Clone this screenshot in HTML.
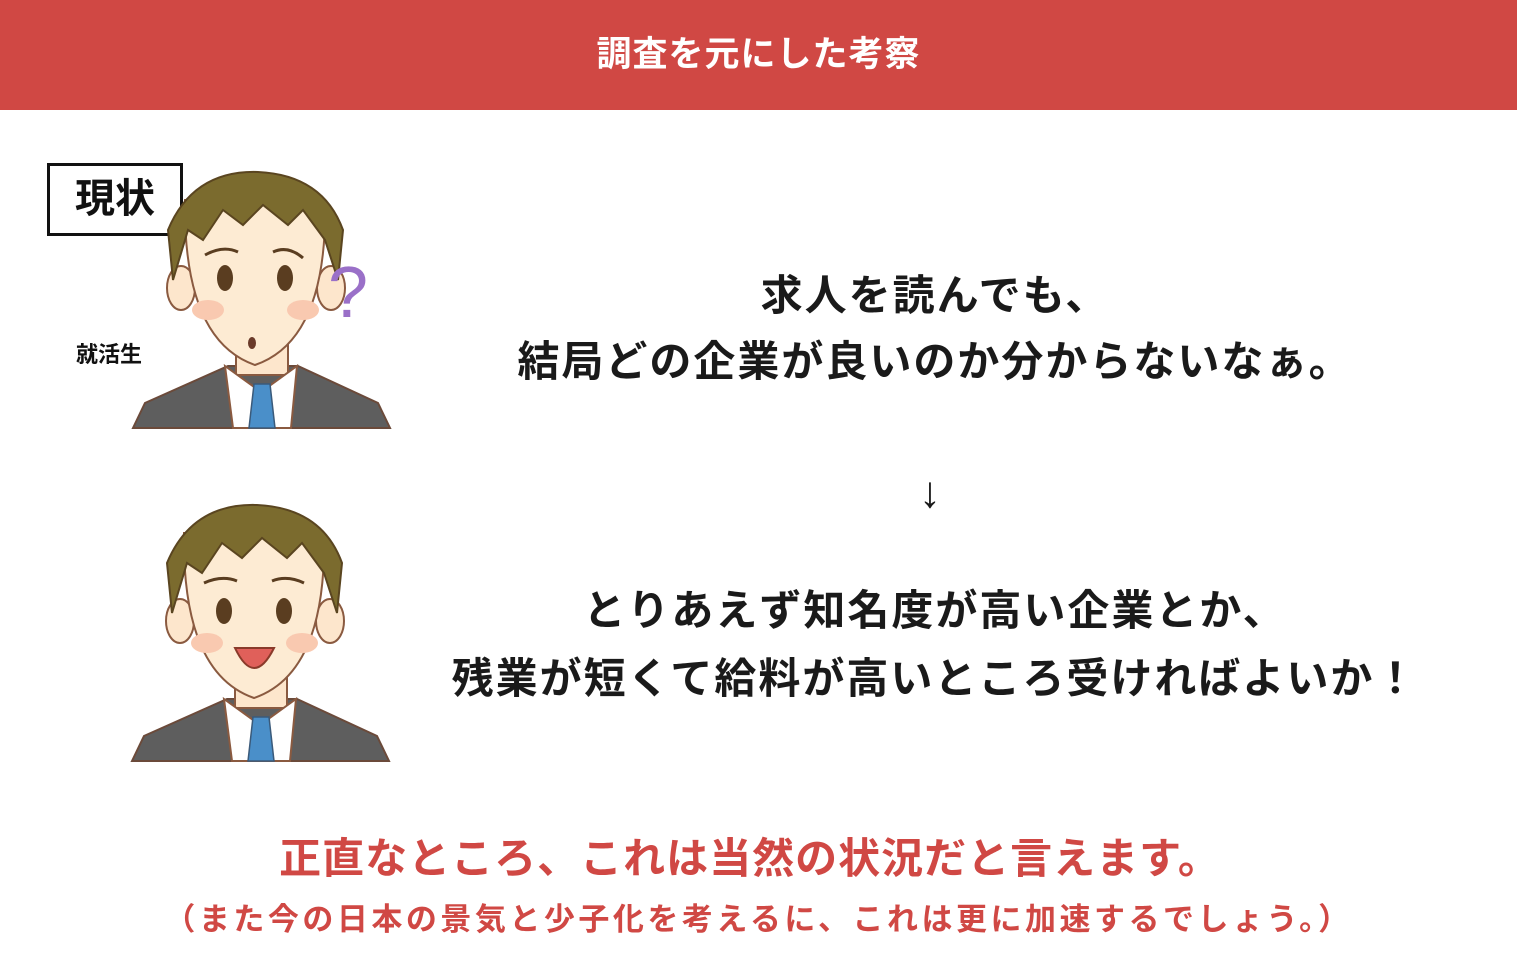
<!DOCTYPE html>
<html><head><meta charset="utf-8"><style>
body{margin:0;width:1517px;height:968px;background:#fff;position:relative;overflow:hidden;font-family:"Liberation Sans","Noto Sans CJK JP",sans-serif;font-weight:bold}
.hdr{position:absolute;left:0;top:0;width:1517px;height:110px;background:#d04844;color:#fff;font-size:35px;letter-spacing:1px;text-align:center;line-height:110px}
.t{position:absolute;white-space:nowrap;text-align:center}
</style></head><body>
<div class="hdr">調査を元にした考察</div>
<div style="position:absolute;left:47px;top:163px;width:130px;height:67px;border:3px solid #111;font-size:40px;line-height:67px;text-align:center;color:#111">現状</div>
<div class="t" style="left:76px;top:337px;font-size:22px;color:#111">就活生</div>
<svg width="1517" height="968" style="position:absolute;left:0;top:0">
<defs>
<g id="body">
<polygon points="0,258 12,233 95,196 165,196 245,233 257,258" fill="#5e5e5e" stroke="#6b4a3a" stroke-width="2"/>
<rect x="103" y="165" width="52" height="40" fill="#fde6cc" stroke="#8a5a40" stroke-width="2"/>
<polygon points="92,196 128,222 164,196 158,258 100,258" fill="#fff" stroke="#8a5a40" stroke-width="2"/>
<polygon points="121,214 137,214 142,258 116,258" fill="#4a8fc9" stroke="#3a5a7a" stroke-width="1.5"/>
<ellipse cx="48" cy="118" rx="14" ry="22" fill="#fde6cc" stroke="#8a5a40" stroke-width="2"/>
<ellipse cx="198" cy="118" rx="14" ry="22" fill="#fde6cc" stroke="#8a5a40" stroke-width="2"/>
<path d="M52,30 Q50,170 122,195 Q195,170 192,30 Z" fill="#fdebd3" stroke="#8a5a40" stroke-width="2"/>
<path d="M40,110 L35,60 Q60,0 125,2 Q190,5 210,60 L205,110 L192,70 L170,40 L155,55 L130,35 L110,55 L90,40 L70,70 L55,60 Z" fill="#7b6b2e" stroke="#5a4520" stroke-width="2"/>
<ellipse cx="92" cy="108" rx="8" ry="13" fill="#5a3d20"/>
<ellipse cx="152" cy="108" rx="8" ry="13" fill="#5a3d20"/>
<ellipse cx="75" cy="140" rx="16" ry="10" fill="#f9c9b0"/>
<ellipse cx="170" cy="140" rx="16" ry="10" fill="#f9c9b0"/>
</g>
</defs>
<g transform="translate(133,170)">
<use href="#body"/>
<ellipse cx="119" cy="173" rx="4" ry="6" fill="#6a3a2a"/>
<path d="M72,85 Q90,75 105,82 M140,82 Q155,75 170,88" stroke="#5a3d20" stroke-width="3" fill="none"/>
<text x="195" y="147" font-size="72" fill="#9a70c8" font-family="Liberation Sans" font-weight="normal">?</text>
</g>
<g transform="translate(132,503)">
<use href="#body"/>
<path d="M103,145 Q122,185 142,145 Z" fill="#e0605a" stroke="#8a3a2a" stroke-width="2"/>
<path d="M72,80 Q90,72 105,78 M140,78 Q155,72 172,80" stroke="#5a3d20" stroke-width="3" fill="none"/>
</g>
</svg>
<div class="t" style="left:435px;width:1000px;top:263px;font-size:42px;letter-spacing:2px;color:#1a1a1a;line-height:66px">求人を読んでも、<br>結局どの企業が良いのか分からないなぁ。</div>
<div class="t" style="left:880px;width:100px;top:468px;font-size:44px;color:#1a1a1a;font-weight:normal">↓</div>
<div class="t" style="left:435px;width:1000px;top:577px;font-size:42px;letter-spacing:2px;color:#1a1a1a;line-height:68px">とりあえず知名度が高い企業とか、<br>残業が短くて給料が高いところ受ければよいか！</div>
<div class="t" style="left:0;width:1500px;top:825px;font-size:42px;letter-spacing:1px;color:#d04844">正直なところ、これは当然の状況だと言えます。</div>
<div class="t" style="left:0;width:1517px;top:894px;font-size:31px;letter-spacing:3.5px;color:#d04844">（また今の日本の景気と少子化を考えるに、これは更に加速するでしょう。）</div>
</body></html>
